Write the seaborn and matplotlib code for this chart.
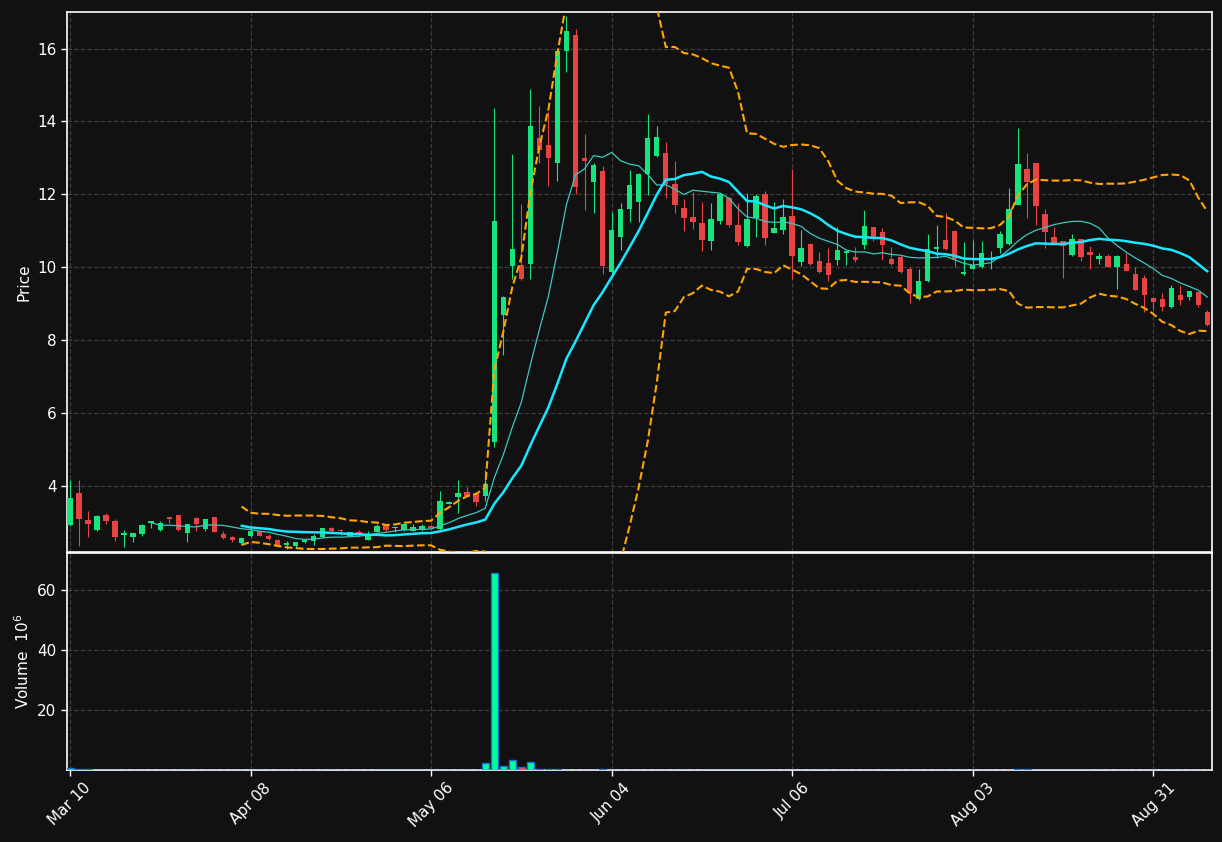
import numpy as np
import pandas as pd
import seaborn as sns
import matplotlib
matplotlib.use('Agg')
import matplotlib.pyplot as plt

# daily OHLC (price), one row per trading day
opens = [2.93, 3.82, 3.07, 2.79, 3.20, 3.04, 2.66, 2.60, 2.68, 2.99,
         2.79, 3.15, 3.20, 2.71, 3.12, 2.82, 3.15, 2.68, 2.60, 2.43,
         2.63, 2.76, 2.63, 2.52, 2.38, 2.35, 2.47, 2.49, 2.60, 2.85,
         2.80, 2.64, 2.74, 2.52, 2.74, 2.93, 2.85, 2.79, 2.77, 2.80,
         2.90, 2.82, 3.51, 3.71, 3.83, 3.79, 3.73, 5.20, 8.70, 10.04,
         10.06, 10.10, 13.55, 13.36, 12.85, 15.92, 16.36, 12.99, 12.33, 12.65,
         9.86, 10.82, 11.60, 11.78, 12.57, 13.04, 13.14, 12.29, 11.63, 11.37,
         11.22, 10.71, 11.26, 11.89, 11.16, 10.57, 11.34, 12.02, 10.94, 11.01,
         11.41, 10.15, 10.64, 10.18, 10.11, 10.21, 10.40, 10.29, 10.60, 11.10,
         10.96, 10.23, 10.29, 9.96, 9.12, 9.61, 10.49, 10.75, 11.00, 9.82,
         9.95, 10.02, 10.20, 10.52, 10.63, 11.72, 12.69, 12.86, 11.46, 10.84,
         10.72, 10.35, 10.77, 10.42, 10.24, 10.32, 10.02, 10.10, 9.82, 9.71,
         9.16, 9.13, 8.90, 9.24, 9.19, 9.32, 8.78]
highs = [4.16, 4.16, 3.31, 3.20, 3.25, 3.09, 2.79, 2.72, 2.95, 3.05,
         3.04, 3.16, 3.21, 2.97, 3.16, 3.10, 3.16, 2.76, 2.64, 2.60,
         2.85, 2.78, 2.68, 2.55, 2.49, 2.47, 2.53, 2.68, 2.86, 2.87,
         2.81, 2.75, 2.80, 2.77, 2.95, 2.96, 2.90, 2.97, 2.95, 2.95,
         2.92, 3.86, 3.60, 4.16, 3.97, 3.82, 4.44, 14.38, 9.20, 13.11,
         11.73, 14.89, 14.43, 14.27, 16.00, 16.89, 16.54, 13.66, 12.86, 12.79,
         11.52, 11.76, 12.66, 12.58, 14.20, 13.88, 13.44, 12.92, 11.86, 12.07,
         11.79, 11.77, 12.03, 11.92, 11.76, 12.04, 12.00, 12.10, 11.79, 11.86,
         12.70, 11.03, 10.67, 10.42, 10.53, 11.10, 10.46, 10.56, 11.58, 11.11,
         11.07, 10.55, 10.35, 10.00, 9.95, 10.91, 11.16, 11.50, 11.02, 10.70,
         10.75, 10.72, 10.44, 11.00, 12.17, 13.82, 13.13, 12.87, 11.60, 11.10,
         10.73, 10.90, 10.78, 10.57, 10.39, 10.37, 10.33, 10.39, 10.00, 9.80,
         9.17, 9.29, 9.50, 9.50, 9.36, 9.33, 8.84]
lows = [2.90, 2.36, 2.59, 2.78, 2.97, 2.50, 2.33, 2.46, 2.62, 2.85,
        2.78, 2.99, 2.78, 2.46, 2.77, 2.78, 2.73, 2.55, 2.46, 2.41,
        2.60, 2.62, 2.52, 2.36, 2.27, 2.34, 2.43, 2.38, 2.58, 2.74,
        2.66, 2.62, 2.60, 2.51, 2.73, 2.78, 2.74, 2.78, 2.76, 2.78,
        2.84, 2.80, 3.50, 3.26, 3.72, 3.45, 3.59, 5.07, 7.60, 9.69,
        9.65, 9.69, 12.86, 12.22, 12.37, 15.35, 12.01, 11.56, 11.50, 9.81,
        9.80, 10.48, 11.23, 11.23, 11.97, 13.02, 11.90, 11.50, 11.00, 11.06,
        10.45, 10.46, 11.19, 11.10, 10.60, 10.56, 10.84, 10.62, 10.93, 10.90,
        9.68, 10.03, 10.06, 9.83, 9.61, 10.05, 10.07, 10.14, 10.50, 10.72,
        10.21, 10.07, 9.85, 9.02, 9.10, 9.60, 10.25, 10.47, 10.00, 9.80,
        9.94, 9.98, 9.95, 10.40, 10.60, 11.70, 11.35, 11.17, 10.53, 10.65,
        9.70, 10.30, 10.17, 9.95, 10.10, 10.00, 9.40, 9.90, 9.38, 8.77,
        8.84, 8.80, 8.89, 8.97, 9.11, 8.90, 8.40]
closes = [3.67, 3.09, 2.96, 3.18, 3.04, 2.60, 2.71, 2.71, 2.93, 3.04,
          2.99, 3.09, 2.80, 2.96, 2.96, 3.09, 2.74, 2.57, 2.52, 2.57,
          2.76, 2.63, 2.54, 2.38, 2.43, 2.46, 2.52, 2.63, 2.85, 2.77,
          2.77, 2.74, 2.69, 2.66, 2.90, 2.79, 2.86, 2.96, 2.87, 2.90,
          2.86, 3.59, 3.57, 3.80, 3.74, 3.56, 4.05, 11.28, 9.19, 10.50,
          9.69, 13.88, 13.21, 12.99, 15.94, 16.49, 12.19, 12.92, 12.81, 10.04,
          11.02, 11.60, 12.26, 12.57, 13.55, 13.58, 12.28, 11.70, 11.34, 11.23,
          10.74, 11.33, 12.02, 11.15, 10.68, 11.33, 11.95, 10.79, 11.08, 11.38,
          10.30, 10.53, 10.08, 9.86, 9.80, 10.48, 10.45, 10.21, 11.13, 10.83,
          10.60, 10.08, 9.86, 9.30, 9.63, 10.51, 10.55, 10.49, 10.22, 9.86,
          10.06, 10.40, 10.22, 10.91, 11.60, 12.84, 12.35, 11.69, 10.96, 10.66,
          10.57, 10.77, 10.27, 10.35, 10.32, 10.02, 10.32, 9.91, 9.39, 9.23,
          9.06, 8.90, 9.44, 9.11, 9.35, 8.97, 8.42]
# volume in millions
volumes = [0.6, 0.4, 0.3, 0.05, 0.05, 0.05, 0.05, 0.05, 0.05, 0.05,
           0.05, 0.05, 0.05, 0.05, 0.05, 0.05, 0.05, 0.05, 0.05, 0.05,
           0.05, 0.05, 0.05, 0.05, 0.05, 0.05, 0.05, 0.05, 0.05, 0.05,
           0.05, 0.05, 0.05, 0.05, 0.05, 0.05, 0.05, 0.05, 0.05, 0.05,
           0.05, 0.1, 0.05, 0.1, 0.05, 0.05, 2.2, 65.6, 1.3, 3.2,
           0.9, 2.6, 0.3, 0.3, 0.3, 0.05, 0.05, 0.05, 0.05, 0.3,
           0.05, 0.05, 0.05, 0.05, 0.05, 0.05, 0.05, 0.05, 0.05, 0.05,
           0.05, 0.05, 0.05, 0.05, 0.05, 0.05, 0.05, 0.05, 0.05, 0.05,
           0.05, 0.05, 0.05, 0.05, 0.05, 0.05, 0.05, 0.05, 0.05, 0.05,
           0.05, 0.05, 0.05, 0.05, 0.05, 0.05, 0.05, 0.05, 0.05, 0.05,
           0.05, 0.05, 0.05, 0.05, 0.05, 0.3, 0.3, 0.05, 0.05, 0.05,
           0.05, 0.05, 0.05, 0.05, 0.05, 0.05, 0.05, 0.05, 0.05, 0.05,
           0.05, 0.05, 0.05, 0.05, 0.05, 0.05, 0.05]

tick_pos = [0, 20, 40, 60, 80, 100, 120]
tick_labels = ['Mar 10', 'Apr 08', 'May 06', 'Jun 04', 'Jul 06', 'Aug 03', 'Aug 31']

BG = '#111111'
GREEN = '#17e47d'
RED = '#e84343'
VGREEN = '#00ff9c'
VRED = '#ff5050'

sns.set_theme(style='dark')
plt.rcParams.update({
    'figure.facecolor': BG, 'axes.facecolor': BG, 'axes.edgecolor': 'white',
    'text.color': 'white', 'axes.labelcolor': 'white',
    'xtick.color': 'white', 'ytick.color': 'white',
    'font.size': 11, 'axes.labelsize': 11,
    'xtick.labelsize': 11, 'ytick.labelsize': 11,
})
plt.rcParams['font.family'] = ['DejaVu Sans']

df = pd.DataFrame({'open': opens, 'high': highs, 'low': lows,
                   'close': closes, 'volume': volumes})
df['i'] = np.arange(len(df))
df['sma10'] = df['close'].rolling(10).mean()
df['sma20'] = df['close'].rolling(20).mean()
sd = df['close'].rolling(20).std(ddof=0)
df['upper'] = df['sma20'] + 2 * sd
df['lower'] = df['sma20'] - 2 * sd

up = df['close'] >= df['open']
ccol = np.where(up, GREEN, RED)
vcol = np.where(up, VGREEN, VRED)

fig = plt.figure(figsize=(12.22, 8.42), dpi=100)
ax = fig.add_axes([0.0548, 0.3444, 0.9370, 0.6413])
axv = fig.add_axes([0.0548, 0.0855, 0.9370, 0.2577], sharex=ax)

# candles
body = (df['close'] - df['open']).abs().clip(lower=0.03)
ax.vlines(df['i'], df['low'], df['high'], colors=ccol, linewidth=0.8, zorder=2)
ax.bar(df['i'], body, bottom=np.minimum(df['open'], df['close']),
       width=0.6, color=ccol, linewidth=0, zorder=3)

# moving averages and bands
sns.lineplot(data=df, x='i', y='sma10', ax=ax, color='#3cc8c0', linewidth=0.9, zorder=4)
sns.lineplot(data=df, x='i', y='sma20', ax=ax, color='#18e8ff', linewidth=1.8, zorder=5)
sns.lineplot(data=df, x='i', y='upper', ax=ax, color='orange', linewidth=1.5,
             linestyle='--', zorder=4)
sns.lineplot(data=df, x='i', y='lower', ax=ax, color='orange', linewidth=1.5,
             linestyle='--', zorder=4)

# volume
axv.bar(df['i'], df['volume'], width=0.8, color=vcol, edgecolor='#1f6fd0',
        linewidth=1.0, zorder=3)

ax.set_xlim(-0.33, 126.5)
ax.set_ylim(2.19, 17.0)
ax.set_yticks([4, 6, 8, 10, 12, 14, 16])
ax.set_ylabel('Price')
ax.set_xlabel('')
ax.tick_params(axis='x', labelbottom=False, bottom=False)
axv.set_ylim(0, 72.3)
axv.set_yticks([20, 40, 60])
axv.set_ylabel('Volume  $10^{6}$')
axv.set_xticks(tick_pos)
axv.set_xticklabels(tick_labels, rotation=45, ha='center')

for a in (ax, axv):
    a.grid(True, color='#3c3c3c', linestyle='--', linewidth=0.9)
    a.tick_params(axis='y', left=True, length=4, width=1, color='white')
    for s in a.spines.values():
        s.set_color('white')
        s.set_linewidth(1.2)
axv.tick_params(axis='x', bottom=True, length=4, width=1, color='white')

fig.savefig('out.png', dpi=100, facecolor=BG)
